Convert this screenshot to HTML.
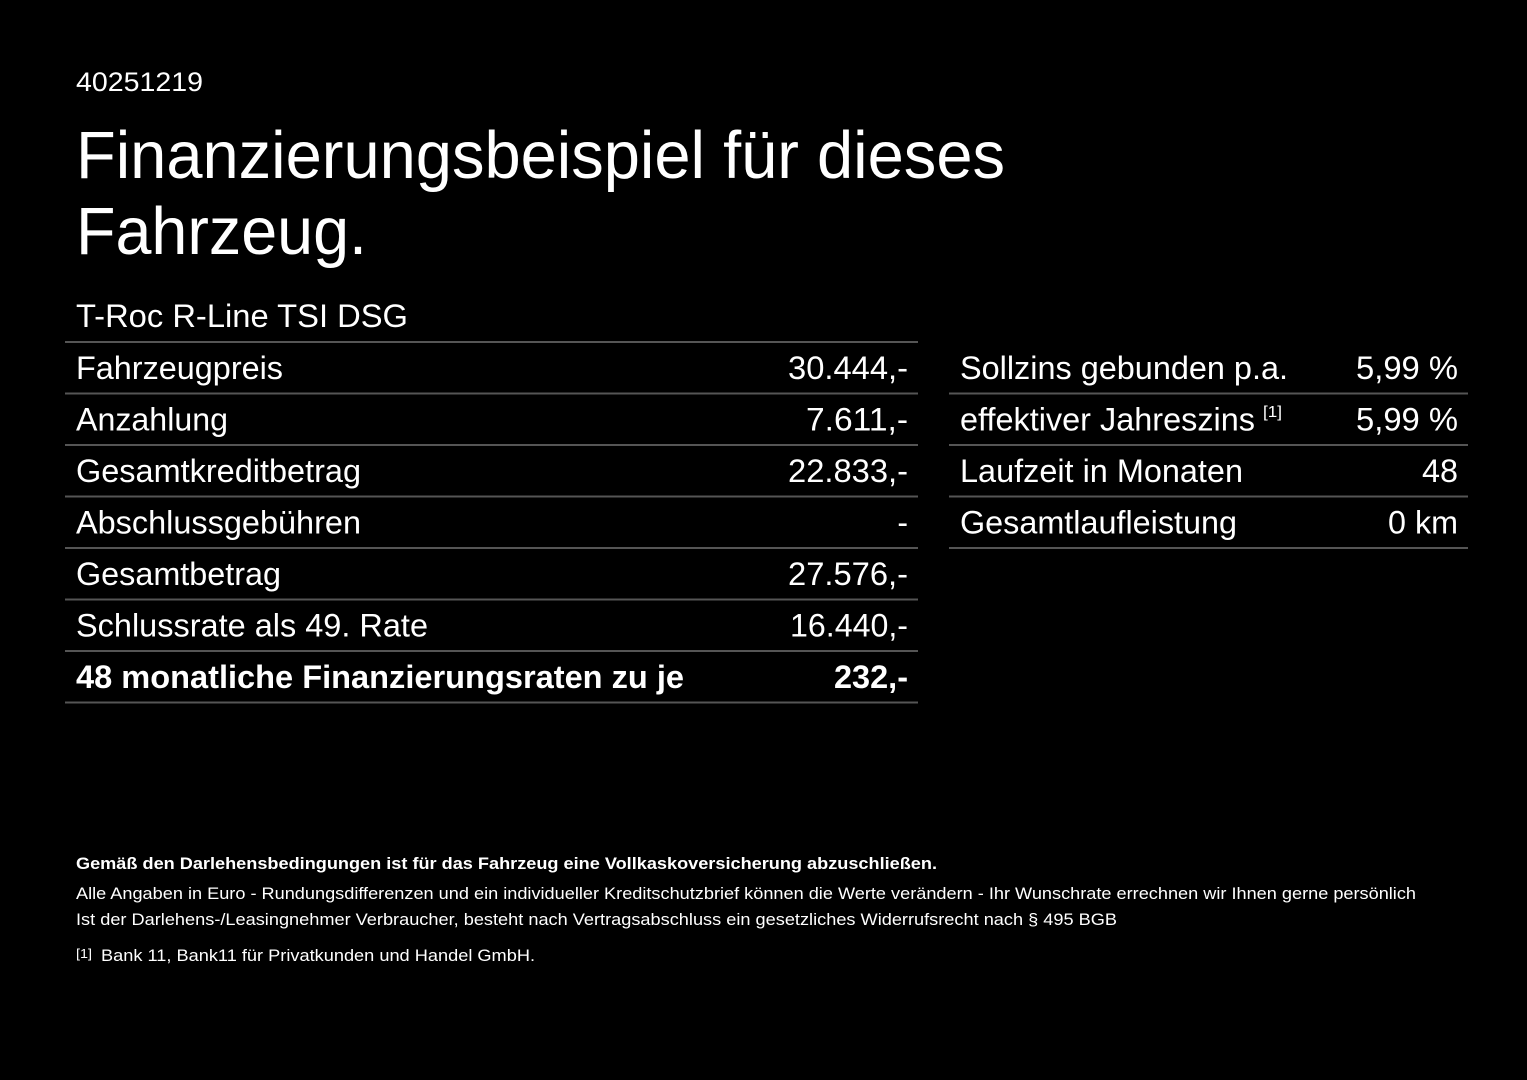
<!DOCTYPE html>
<html><head><meta charset="utf-8"><style>
html,body{margin:0;padding:0;background:#000;}
svg{display:block}
text{font-family:"Liberation Sans",Arial,sans-serif;fill:#fff}
</style></head><body>
<svg width="1527" height="1080" viewBox="0 0 1527 1080" xmlns="http://www.w3.org/2000/svg">
<rect width="1527" height="1080" fill="#000"/>
<text x="76" y="91" font-size="27" textLength="127" lengthAdjust="spacingAndGlyphs">40251219</text>
<text x="76" y="178" font-size="67" textLength="929" lengthAdjust="spacingAndGlyphs">Finanzierungsbeispiel für dieses</text>
<text x="76" y="254" font-size="67" textLength="291" lengthAdjust="spacingAndGlyphs">Fahrzeug.</text>
<text x="76" y="327" font-size="32" textLength="332" lengthAdjust="spacingAndGlyphs">T-Roc R-Line TSI DSG</text>
<g stroke="#555" stroke-width="2">
<line x1="65" x2="918" y1="342" y2="342"/>
<line x1="65" x2="918" y1="393.5" y2="393.5"/>
<line x1="65" x2="918" y1="445" y2="445"/>
<line x1="65" x2="918" y1="496.5" y2="496.5"/>
<line x1="65" x2="918" y1="548" y2="548"/>
<line x1="65" x2="918" y1="599.5" y2="599.5"/>
<line x1="65" x2="918" y1="651" y2="651"/>
<line x1="65" x2="918" y1="702.5" y2="702.5"/>
<line x1="949" x2="1468" y1="393.5" y2="393.5"/>
<line x1="949" x2="1468" y1="445" y2="445"/>
<line x1="949" x2="1468" y1="496.5" y2="496.5"/>
<line x1="949" x2="1468" y1="548" y2="548"/>
</g>
<g font-size="32">
<text x="76" y="379" textLength="207" lengthAdjust="spacingAndGlyphs">Fahrzeugpreis</text>
<text x="76" y="430.5" textLength="152" lengthAdjust="spacingAndGlyphs">Anzahlung</text>
<text x="76" y="482" textLength="285" lengthAdjust="spacingAndGlyphs">Gesamtkreditbetrag</text>
<text x="76" y="533.5" textLength="285" lengthAdjust="spacingAndGlyphs">Abschlussgebühren</text>
<text x="76" y="585" textLength="205" lengthAdjust="spacingAndGlyphs">Gesamtbetrag</text>
<text x="76" y="636.5" textLength="352" lengthAdjust="spacingAndGlyphs">Schlussrate als 49. Rate</text>
<text x="76" y="688" font-weight="bold" textLength="608" lengthAdjust="spacingAndGlyphs">48 monatliche Finanzierungsraten zu je</text>
<text x="788" y="379" textLength="120" lengthAdjust="spacingAndGlyphs">30.444,-</text>
<text x="806" y="430.5" textLength="102" lengthAdjust="spacingAndGlyphs">7.611,-</text>
<text x="788" y="482" textLength="120" lengthAdjust="spacingAndGlyphs">22.833,-</text>
<text x="908" y="533.5" text-anchor="end">-</text>
<text x="788" y="585" textLength="120" lengthAdjust="spacingAndGlyphs">27.576,-</text>
<text x="790" y="636.5" textLength="118" lengthAdjust="spacingAndGlyphs">16.440,-</text>
<text x="834" y="688" font-weight="bold" textLength="74" lengthAdjust="spacingAndGlyphs">232,-</text>
<text x="960" y="379" textLength="328" lengthAdjust="spacingAndGlyphs">Sollzins gebunden p.a.</text>
<text x="960" y="430.5" textLength="295" lengthAdjust="spacingAndGlyphs">effektiver Jahreszins</text>
<text x="1263" y="417" font-size="16" textLength="19" lengthAdjust="spacingAndGlyphs">[1]</text>
<text x="960" y="482" textLength="283" lengthAdjust="spacingAndGlyphs">Laufzeit in Monaten</text>
<text x="960" y="533.5" textLength="277" lengthAdjust="spacingAndGlyphs">Gesamtlaufleistung</text>
<text x="1356" y="379" textLength="102" lengthAdjust="spacingAndGlyphs">5,99 %</text>
<text x="1356" y="430.5" textLength="102" lengthAdjust="spacingAndGlyphs">5,99 %</text>
<text x="1422" y="482" textLength="36" lengthAdjust="spacingAndGlyphs">48</text>
<text x="1388" y="533.5" textLength="70" lengthAdjust="spacingAndGlyphs">0 km</text>
</g>
<g font-size="17">
<text x="76" y="869" font-weight="bold" textLength="861" lengthAdjust="spacingAndGlyphs">Gemäß den Darlehensbedingungen ist für das Fahrzeug eine Vollkaskoversicherung abzuschließen.</text>
<text x="76" y="899" textLength="1340" lengthAdjust="spacingAndGlyphs">Alle Angaben in Euro - Rundungsdifferenzen und ein individueller Kreditschutzbrief können die Werte verändern - Ihr Wunschrate errechnen wir Ihnen gerne persönlich</text>
<text x="76" y="925" textLength="1041" lengthAdjust="spacingAndGlyphs">Ist der Darlehens-/Leasingnehmer Verbraucher, besteht nach Vertragsabschluss ein gesetzliches Widerrufsrecht nach § 495 BGB</text>
<text x="76" y="958" font-size="13" textLength="16" lengthAdjust="spacingAndGlyphs">[1]</text>
<text x="101" y="961" textLength="434" lengthAdjust="spacingAndGlyphs">Bank 11, Bank11 für Privatkunden und Handel GmbH.</text>
</g>
</svg>
</body></html>
